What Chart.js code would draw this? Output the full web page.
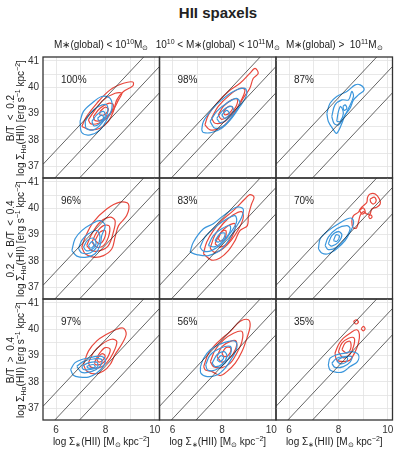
<!DOCTYPE html>
<html><head><meta charset="utf-8">
<script src="https://cdn.jsdelivr.net/npm/chart.js@4"></script>
<style>
body{margin:0;width:399px;height:453px;position:relative;background:#fff;font-family:"Liberation Sans",Arial,sans-serif;color:#222;overflow:hidden}
canvas{position:absolute;left:0;top:0}
.t{position:absolute;white-space:pre;font-size:10px;line-height:12px;color:#222}
.t sub,.t sup{font-size:7px;line-height:0;position:relative;vertical-align:baseline}
.t sup{top:-4px}
.t sub{top:2px}
.rot{transform:rotate(-90deg);text-align:center}
#title{position:absolute;left:0;width:436px;top:4px;text-align:center;font-weight:bold;font-size:15px;color:#222}
</style></head><body>
<div id="title">HII spaxels</div>
<script>
// ---------- data ----------
const xRange = [5.47, 10.19];
const yRange = [36.55, 41.15];
const diagOffsets = [31.6, 30.6, 29.6];
const colTitles = ['M∗(global) &lt; 10<sup>10</sup>M<sub>⊙</sub>', '10<sup>10</sup> &lt; M∗(global) &lt; 10<sup>11</sup>M<sub>⊙</sub>', 'M∗(global) &gt;  10<sup>11</sup>M<sub>⊙</sub>'];
const rowTitles = ['B/T  &lt;  0.2', '0.2  &lt;  B/T  &lt;  0.4', 'B/T  &gt;  0.4'];
const yAxisTitle = 'log Σ<sub>Hα</sub>(HII) [erg s<sup>−1</sup> kpc<sup>−2</sup>]';
const xAxisTitle = 'log Σ<sub>∗</sub>(HII) [M<sub>⊙</sub> kpc<sup>−2</sup>]';
const percents = [['100%','98%','87%'],['96%','83%','70%'],['97%','56%','35%']];

// contours: each a list of [logSigmaStar, logSigmaHa] vertices
const blue_r0c0 = [
 [[6.97,38.70],[7.11,39.08],[7.45,39.39],[7.85,39.65],[8.19,39.58],[8.26,39.20],[8.05,38.76],[7.78,38.38],[7.38,38.19],[7.04,38.28]],
 [[7.18,38.70],[7.38,39.01],[7.72,39.27],[8.05,39.33],[8.08,39.01],[7.85,38.63],[7.51,38.38],[7.22,38.44]],
 [[7.45,38.70],[7.65,38.95],[7.92,39.08],[7.99,38.89],[7.78,38.63],[7.54,38.53]],
 [[7.68,38.82],[7.85,38.95],[7.92,38.82],[7.76,38.71]]];
const red_r0c0 = [
 [[7.04,38.51],[7.24,38.89],[7.65,39.39],[8.19,39.90],[8.73,40.15],[9.11,40.20],[9.11,40.05],[8.73,39.84],[8.46,39.52],[8.32,39.08],[8.12,38.70],[7.78,38.44],[7.38,38.38]],
 [[7.31,38.76],[7.58,39.14],[7.92,39.52],[8.39,39.77],[8.66,39.77],[8.53,39.52],[8.32,39.14],[8.05,38.82],[7.72,38.63],[7.41,38.61]],
 [[7.51,38.89],[7.78,39.20],[8.12,39.39],[8.32,39.33],[8.19,39.01],[7.85,38.76],[7.58,38.73]],
 [[7.78,39.08],[7.99,39.24],[8.12,39.16],[7.95,38.95],[7.78,38.95]]];
const blue_r0c1 = [
 [[7.18,38.38],[7.25,38.70],[7.58,39.14],[7.99,39.52],[8.46,39.84],[8.93,39.96],[9.00,39.71],[8.73,39.27],[8.39,38.82],[7.99,38.44],[7.58,38.28],[7.25,38.28]],
 [[7.52,38.70],[7.79,39.08],[8.19,39.39],[8.59,39.58],[8.73,39.39],[8.46,38.95],[8.12,38.57],[7.72,38.44]],
 [[7.79,38.82],[8.06,39.14],[8.39,39.27],[8.46,39.08],[8.19,38.76],[7.92,38.66]],
 [[7.99,38.95],[8.19,39.12],[8.30,38.99],[8.12,38.82]]];
const red_r0c1 = [
 [[7.31,38.57],[7.45,38.95],[7.79,39.39],[8.26,39.84],[8.73,40.15],[9.13,40.53],[9.34,40.72],[9.47,40.53],[9.27,40.34],[9.13,39.96],[8.86,39.58],[8.59,39.14],[8.32,38.76],[7.92,38.44],[7.52,38.38]],
 [[7.58,38.82],[7.85,39.27],[8.32,39.71],[8.73,39.96],[8.93,39.90],[8.79,39.52],[8.52,39.08],[8.12,38.70],[7.72,38.63]],
 [[7.85,38.95],[8.06,39.27],[8.39,39.52],[8.62,39.55],[8.57,39.27],[8.32,38.95],[7.99,38.78]],
 [[8.06,39.08],[8.26,39.27],[8.43,39.24],[8.32,39.04],[8.12,38.95]]];
const blue_r0c2 = [
 [[7.53,39.01],[7.66,39.39],[7.93,39.65],[8.34,39.84],[8.68,40.09],[8.88,40.09],[9.04,39.90],[8.81,39.71],[8.61,39.52],[8.47,39.20],[8.27,38.95],[8.14,38.63],[7.93,38.25],[7.80,38.38],[7.59,38.70]],
 [[7.73,38.89],[7.86,39.33],[8.14,39.52],[8.41,39.52],[8.54,39.84],[8.61,39.65],[8.41,39.20],[8.20,38.82],[8.00,38.57],[7.82,38.63]],
 [[7.93,38.70],[8.00,39.08],[8.09,39.27],[8.20,39.01],[8.07,38.70]],
 [[8.18,39.27],[8.27,39.33],[8.34,39.20],[8.23,39.12]]];
const red_r0c2 = [];
const blue_r1c0 = [
 [[6.64,38.39],[6.77,38.84],[7.04,39.15],[7.45,39.41],[7.78,39.53],[7.99,39.34],[7.85,38.96],[7.78,38.58],[7.58,38.27],[7.24,38.14],[6.84,38.18]],
 [[6.91,38.46],[7.04,38.78],[7.31,39.03],[7.65,39.15],[7.78,38.90],[7.65,38.52],[7.38,38.30],[7.04,38.30]],
 [[7.11,38.52],[7.27,38.78],[7.51,38.86],[7.62,38.65],[7.45,38.43],[7.22,38.39]],
 [[7.31,38.58],[7.45,38.73],[7.54,38.61],[7.41,38.48]]];
const red_r1c0 = [
 [[7.04,38.52],[7.18,38.90],[7.51,39.47],[8.05,39.97],[8.59,40.23],[8.93,40.16],[8.86,39.72],[8.53,39.34],[8.39,38.90],[8.26,38.46],[7.92,38.20],[7.51,38.14],[7.18,38.27]],
 [[7.24,38.58],[7.45,39.03],[7.78,39.47],[8.19,39.66],[8.39,39.53],[8.32,39.09],[8.12,38.58],[7.78,38.39],[7.45,38.39]],
 [[7.45,38.71],[7.65,39.09],[7.92,39.34],[8.16,39.32],[8.12,38.90],[7.92,38.58],[7.65,38.52]],
 [[7.58,38.77],[7.78,39.09],[7.99,39.15],[7.95,38.84],[7.76,38.65]]];
const blue_r1c1 = [
 [[6.71,38.33],[6.84,38.71],[7.25,39.22],[7.65,39.41],[8.06,39.72],[8.59,40.04],[8.86,39.97],[8.80,39.66],[8.53,39.22],[8.26,38.77],[7.92,38.39],[7.45,38.20],[6.98,38.24]],
 [[7.11,38.52],[7.31,38.90],[7.72,39.28],[8.19,39.59],[8.53,39.72],[8.59,39.47],[8.32,39.03],[7.99,38.65],[7.58,38.39],[7.25,38.37]],
 [[7.45,38.58],[7.65,38.96],[7.99,39.22],[8.32,39.34],[8.32,39.09],[8.06,38.77],[7.72,38.54]],
 [[7.72,38.77],[7.92,39.03],[8.12,39.05],[8.06,38.84],[7.85,38.71]]];
const red_r1c1 = [
 [[7.25,38.27],[7.38,38.71],[7.65,39.15],[7.99,39.53],[8.46,39.91],[8.93,40.35],[9.13,40.52],[9.30,40.42],[9.20,40.16],[9.07,39.72],[9.03,39.34],[8.73,39.15],[8.53,38.77],[8.26,38.39],[7.92,38.11],[7.58,38.03]],
 [[7.52,38.48],[7.72,38.99],[8.06,39.43],[8.46,39.75],[8.80,39.87],[8.86,39.62],[8.66,39.18],[8.39,38.80],[8.06,38.48],[7.72,38.32]],
 [[7.72,38.65],[7.92,39.03],[8.26,39.34],[8.53,39.41],[8.49,39.09],[8.26,38.71],[7.92,38.52]],
 [[7.85,38.84],[7.99,39.11],[8.16,39.15],[8.12,38.84],[7.95,38.75]]];
const blue_r1c2 = [
 [[7.19,38.46],[7.26,38.84],[7.59,39.15],[8.00,39.41],[8.34,39.59],[8.54,39.62],[8.61,39.41],[8.47,39.09],[8.27,38.77],[7.93,38.46],[7.59,38.27],[7.32,38.30]],
 [[7.46,38.58],[7.59,38.90],[7.93,39.22],[8.34,39.34],[8.47,39.22],[8.27,38.84],[7.93,38.52],[7.59,38.43]],
 [[7.59,38.65],[7.73,38.96],[8.00,39.11],[8.14,38.99],[8.00,38.71],[7.73,38.56]],
 [[7.80,38.77],[7.91,38.99],[8.04,38.94],[7.93,38.74]]];
const red_r1c2 = [
 [[8.54,39.53],[8.61,39.72],[8.81,39.85],[8.88,39.97],[9.01,40.10],[9.15,40.23],[9.18,40.42],[9.28,40.54],[9.49,40.54],[9.66,40.35],[9.69,40.16],[9.55,40.04],[9.35,39.97],[9.28,39.78],[9.15,39.78],[9.01,39.87],[8.88,39.72],[8.81,39.47],[8.72,39.24],[8.58,39.28]],
 [[9.28,40.35],[9.45,40.42],[9.53,40.29],[9.42,40.16],[9.31,40.23]],
 [[8.85,39.92],[9.01,40.01],[9.08,39.85],[8.95,39.78]],
 [[9.22,39.70],[9.31,39.75],[9.36,39.66],[9.27,39.61]]];
const blue_r2c0 = [
 [[6.59,38.47],[6.77,38.73],[7.04,38.85],[7.38,38.92],[7.78,38.98],[7.99,38.85],[7.92,38.60],[7.65,38.34],[7.31,38.18],[6.97,38.18],[6.70,38.25]],
 [[6.84,38.59],[7.11,38.78],[7.51,38.87],[7.85,38.85],[7.78,38.59],[7.45,38.40],[7.04,38.36]],
 [[7.04,38.59],[7.31,38.72],[7.65,38.75],[7.68,38.57],[7.38,38.47],[7.11,38.47]],
 [[7.24,38.59],[7.51,38.66],[7.58,38.56],[7.31,38.52]]];
const red_r2c0 = [
 [[7.11,38.66],[7.31,39.17],[7.65,39.56],[8.05,39.81],[8.46,40.00],[8.73,40.04],[8.84,39.81],[8.66,39.43],[8.39,39.04],[8.19,38.66],[7.92,38.41],[7.58,38.30],[7.24,38.41]],
 [[7.31,38.72],[7.51,39.11],[7.85,39.43],[8.26,39.62],[8.46,39.53],[8.32,39.11],[8.05,38.72],[7.72,38.53],[7.41,38.56]],
 [[7.58,38.79],[7.78,39.11],[7.99,39.30],[8.19,39.24],[8.08,38.92],[7.85,38.69],[7.58,38.66]],
 [[7.65,38.85],[7.85,39.07],[7.99,38.98],[7.85,38.79],[7.72,38.76]]];
const blue_r2c1 = [
 [[7.13,38.58],[7.26,38.90],[7.53,39.22],[7.87,39.41],[8.27,39.54],[8.54,39.54],[8.60,39.28],[8.40,38.90],[8.13,38.52],[7.80,38.26],[7.40,38.20],[7.15,38.32]],
 [[7.34,38.65],[7.53,39.03],[7.93,39.28],[8.34,39.35],[8.36,39.09],[8.13,38.71],[7.73,38.45],[7.42,38.45]],
 [[7.60,38.71],[7.80,39.03],[8.09,39.15],[8.20,38.96],[8.00,38.67],[7.73,38.58]],
 [[7.80,38.84],[7.96,39.00],[8.07,38.91],[7.91,38.76]]];
const red_r2c1 = [
 [[7.26,38.58],[7.46,39.09],[7.87,39.54],[8.34,39.92],[8.74,40.30],[9.07,40.36],[9.14,40.11],[9.01,39.66],[8.81,39.15],[8.54,38.71],[8.20,38.39],[7.93,38.24],[7.60,38.39],[7.33,38.45]],
 [[7.53,38.77],[7.73,39.22],[8.07,39.60],[8.47,39.85],[8.81,39.92],[8.81,39.54],[8.60,39.09],[8.34,38.71],[8.00,38.54],[7.66,38.58]],
 [[7.80,38.96],[8.00,39.34],[8.34,39.54],[8.58,39.54],[8.54,39.22],[8.31,38.90],[8.00,38.75]],
 [[8.00,39.09],[8.17,39.31],[8.36,39.28],[8.27,39.03],[8.09,38.96]]];
const blue_r2c2 = [
 [[7.59,38.64],[7.66,38.90],[7.93,39.03],[8.27,39.09],[8.54,39.15],[8.81,39.03],[8.77,38.77],[8.47,38.58],[8.20,38.39],[7.93,38.36],[7.66,38.45]],
 [[7.73,38.71],[7.93,38.90],[8.27,38.96],[8.54,38.96],[8.47,38.75],[8.20,38.58],[7.86,38.55]],
 [[7.93,38.80],[8.14,38.92],[8.36,38.92],[8.31,38.75],[8.07,38.69]]];
const red_r2c2 = [
 [[7.86,39.09],[8.00,39.41],[8.20,39.66],[8.47,39.85],[8.74,39.98],[8.85,39.79],[8.81,39.47],[8.68,39.15],[8.47,38.83],[8.20,38.77],[7.93,38.83]],
 [[8.00,39.15],[8.14,39.47],[8.41,39.66],[8.64,39.66],[8.61,39.34],[8.45,39.03],[8.18,38.92]],
 [[8.14,39.22],[8.27,39.47],[8.47,39.54],[8.50,39.28],[8.34,39.09]],
 [[8.61,40.30],[8.72,40.36],[8.81,40.27],[8.70,40.20]],
 [[8.92,40.02],[9.01,40.11],[9.08,40.02],[9.00,39.94]]];

const panelBlue = [[blue_r0c0, blue_r0c1, blue_r0c2],[blue_r1c0, blue_r1c1, blue_r1c2],[blue_r2c0, blue_r2c1, blue_r2c2]];
const panelRed  = [[red_r0c0, red_r0c1, red_r0c2],[red_r1c0, red_r1c1, red_r1c2],[red_r2c0, red_r2c1, red_r2c2]];

// ---------- layout ----------
const W = 399, H = 453;
const colLeft = [43, 159.5, 276], colW = 116.5;
const rowTop = [57, 178, 299], rowH = 121;
const YAXW = 30, XAXH = 18;
const BLUE = '#3a96dc', RED = '#e8473c';

Chart.defaults.font.family = '"Liberation Sans", Arial, sans-serif';
Chart.defaults.font.size = 10;
Chart.defaults.color = '#333';

const frame = {
  id: 'frame',
  afterDraw(chart) {
    const a = chart.chartArea, c = chart.ctx;
    c.save(); c.strokeStyle = '#333'; c.lineWidth = 1.3;
    c.strokeRect(a.left, a.top, a.right - a.left, a.bottom - a.top);
    c.restore();
  }
};

function closed(poly) {
  const pts = poly.map(p => ({x: p[0], y: p[1]}));
  pts.push({x: poly[0][0], y: poly[0][1]});
  return pts;
}

function addText(html, left, top, cls, extra) {
  const d = document.createElement('div');
  d.className = 't ' + (cls || '');
  d.innerHTML = html;
  d.style.left = left + 'px'; d.style.top = top + 'px';
  if (extra) Object.assign(d.style, extra);
  document.body.appendChild(d);
  return d;
}

for (let r = 0; r < 3; r++) {
  for (let c = 0; c < 3; c++) {
    const cv = document.createElement('canvas');
    cv.width = W; cv.height = H;
    cv.style.width = W + 'px'; cv.style.height = H + 'px';
    document.body.appendChild(cv);
    const datasets = [];
    diagOffsets.forEach(k => datasets.push({
      data: [{x: xRange[0], y: xRange[0] + k}, {x: xRange[1], y: xRange[1] + k}],
      showLine: true, borderColor: '#222', borderWidth: 0.7, pointRadius: 0, tension: 0
    }));
    panelBlue[r][c].forEach(p => datasets.push({
      data: closed(p), showLine: true, borderColor: BLUE, borderWidth: 1.2, pointRadius: 0, tension: 0.35
    }));
    panelRed[r][c].forEach(p => datasets.push({
      data: closed(p), showLine: true, borderColor: RED, borderWidth: 1.2, pointRadius: 0, tension: 0.35
    }));
    const showY = c === 0, showX = r === 2;
    const yw = showY ? YAXW : 0, xh = showX ? XAXH : 0;
    new Chart(cv, {
      type: 'scatter',
      data: {datasets},
      options: {
        responsive: false, animation: false, devicePixelRatio: 1,
        events: [],
        layout: {autoPadding: false, padding: {left: colLeft[c] - yw, top: rowTop[r], right: W - colLeft[c] - colW, bottom: H - rowTop[r] - rowH - xh}},
        plugins: {legend: {display: false}, tooltip: {enabled: false}},
        scales: {
          x: {
            type: 'linear', min: xRange[0], max: xRange[1],
            afterFit(s) { s.height = xh; },
            grid: {color: '#e2e2e2', lineWidth: 0.8, drawTicks: false},
            border: {display: false},
            ticks: {display: showX, stepSize: 1, includeBounds: false, autoSkip: false, maxRotation: 0, padding: 4,
                    color: '#333', callback: v => (v % 2 === 0 ? String(v) : '')}
          },
          y: {
            type: 'linear', min: yRange[0], max: yRange[1],
            afterFit(s) { s.width = yw; },
            grid: {color: '#e2e2e2', lineWidth: 0.8, drawTicks: false},
            border: {display: false},
            ticks: {display: showY, stepSize: 0.5, includeBounds: false, autoSkip: false, padding: 4,
                    color: '#333', callback: v => (Number.isInteger(v) ? String(v) : '')}
          }
        }
      },
      plugins: [frame]
    });
    addText(percents[r][c], colLeft[c] + 18, rowTop[r] + 17);
  }
}

// column titles
for (let c = 0; c < 3; c++) {
  addText(colTitles[c], colLeft[c] - 20, 39, '', {width: (colW + 40) + 'px', textAlign: 'center'});
}
// row titles (rotated)
for (let r = 0; r < 3; r++) {
  const cy = rowTop[r] + rowH / 2;
  const w = 160;
  addText(rowTitles[r], 10.5 - w / 2, cy - 6, 'rot', {width: w + 'px'});
  addText(yAxisTitle, 21 - w / 2, cy - 6, 'rot', {width: w + 'px'});
}
// x axis titles
for (let c = 0; c < 3; c++) {
  addText(xAxisTitle, colLeft[c] - 20, 436, '', {width: (colW + 40) + 'px', textAlign: 'center'});
}
</script>
</body></html>
